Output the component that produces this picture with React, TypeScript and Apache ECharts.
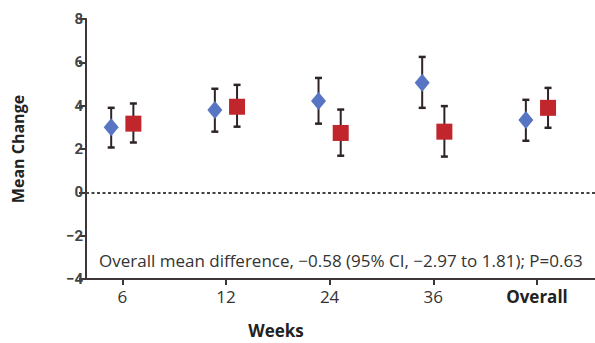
import React, { useEffect, useRef } from "react";
import * as echarts from "echarts";

const categories = ["6", "12", "24", "36", "Overall"];
const blueMean = [3.0, 3.8, 4.22, 5.06, 3.34];
const blueLow = [2.07, 2.8, 3.17, 3.9, 2.38];
const blueHigh = [3.9, 4.78, 5.28, 6.25, 4.27];
const redMean = [3.17, 3.95, 2.74, 2.8, 3.9];
const redLow = [2.3, 3.03, 1.69, 1.65, 2.98];
const redHigh = [4.1, 4.96, 3.82, 3.98, 4.82];
const yTicks = [-4, -2, 0, 2, 4, 6, 8];
const annotation = "Overall mean difference, \u22120.58 (95% CI, \u22122.97 to 1.81); P=0.63";

const OFFSET = 0.107;
const BLUE = "#5875c4";
const RED = "#c0262c";
const INK = "#2e2426";
const AXIS = "#3e3537";
const FONT = "'Open Sans', 'Liberation Sans', sans-serif";
const NARROW = "'Liberation Sans Narrow', 'Roboto', 'Liberation Sans', sans-serif";

export default function App() {
  const ref = useRef<HTMLDivElement>(null);
  useEffect(() => {
    if (!ref.current) return;
    const chart = echarts.init(ref.current, undefined, { renderer: "svg" });
    const errRender = (params: any, api: any) => {
      const x = api.value(0);
      const lo = api.coord([x, api.value(1)]);
      const hi = api.coord([x, api.value(2)]);
      const cap = 3.5;
      return {
        type: "group",
        children: [
          { type: "line", shape: { x1: lo[0], y1: lo[1], x2: hi[0], y2: hi[1] }, style: { stroke: INK, lineWidth: 2 } },
          { type: "line", shape: { x1: hi[0] - cap, y1: hi[1], x2: hi[0] + cap, y2: hi[1] }, style: { stroke: INK, lineWidth: 2.5 } },
          { type: "line", shape: { x1: lo[0] - cap, y1: lo[1], x2: lo[0] + cap, y2: lo[1] }, style: { stroke: INK, lineWidth: 2.5 } },
        ],
      };
    };
    const idx = categories.map((_, i) => i);
    chart.setOption({
      animation: false,
      grid: { left: 86, right: 0, top: 19, bottom: 64 },
      xAxis: {
        type: "value",
        min: -0.35,
        max: 4.56,
        splitLine: { show: false },
        axisLine: { show: true, onZero: false, lineStyle: { color: AXIS, width: 2 } },
        axisTick: { show: true, customValues: idx, length: 6, lineStyle: { color: AXIS, width: 2 } },
        axisLabel: {
          customValues: idx,
          margin: 9,
          fontSize: 17,
          fontFamily: FONT,
          color: "#333",
          formatter: (v: number) => {
            const c = categories[Math.round(v)];
            return c === "Overall" ? "{b|" + c + "}" : c;
          },
          rich: { b: { fontWeight: "bold", fontSize: 17, fontFamily: FONT, color: "#222" } },
        },
      },
      yAxis: {
        type: "value",
        min: yTicks[0],
        max: yTicks[yTicks.length - 1],
        interval: 2,
        name: "Mean Change",
        nameLocation: "middle",
        nameGap: 60,
        nameRotate: 90,
        nameTextStyle: { fontSize: 16, fontWeight: "bold", fontFamily: FONT, color: "#222" },
        splitLine: { show: false },
        axisLine: { show: true, onZero: false, lineStyle: { color: AXIS, width: 2 } },
        axisTick: { show: true, length: 7, lineStyle: { color: AXIS, width: 2 } },
        axisLabel: {
          margin: 3,
          fontSize: 15,
          fontWeight: "bold",
          fontFamily: NARROW,
          color: "#444",
          formatter: (v: number) => (v < 0 ? "\u2212" + Math.abs(v) : String(v)),
        },
      },
      series: [
        {
          type: "custom",
          renderItem: errRender,
          data: idx.map((i) => [i - OFFSET, blueLow[i], blueHigh[i]]),
          z: 2,
          markLine: {
            silent: true,
            symbol: "none",
            label: { show: false },
            lineStyle: { color: "#444", type: [3, 2.5], width: 2 },
            data: [{ yAxis: 0 }],
          },
        },
        {
          type: "custom",
          renderItem: errRender,
          data: idx.map((i) => [i + OFFSET, redLow[i], redHigh[i]]),
          z: 2,
        },
        {
          type: "scatter",
          symbol: "diamond",
          symbolSize: [15, 18],
          itemStyle: { color: BLUE, opacity: 1 },
          data: idx.map((i) => [i - OFFSET, blueMean[i]]),
          z: 5,
        },
        {
          type: "scatter",
          symbol: "rect",
          symbolSize: [16, 16],
          itemStyle: { color: RED, opacity: 1 },
          data: idx.map((i) => [i + OFFSET, redMean[i]]),
          z: 5,
        },
      ],
      graphic: [
        {
          type: "text",
          x: 99,
          y: 260,
          style: { text: annotation, fontSize: 17, fontFamily: FONT, fill: "#333", verticalAlign: "middle" },
        },
        {
          type: "text",
          x: 276,
          y: 330,
          style: { text: "Weeks", fontSize: 17, fontWeight: "bold", fontFamily: FONT, fill: "#222", align: "center", verticalAlign: "middle" },
        },
      ],
    });
    return () => chart.dispose();
  }, []);
  return <div ref={ref} style={{ position: "absolute", left: 0, top: 0, width: 595, height: 343 }} />;
}
